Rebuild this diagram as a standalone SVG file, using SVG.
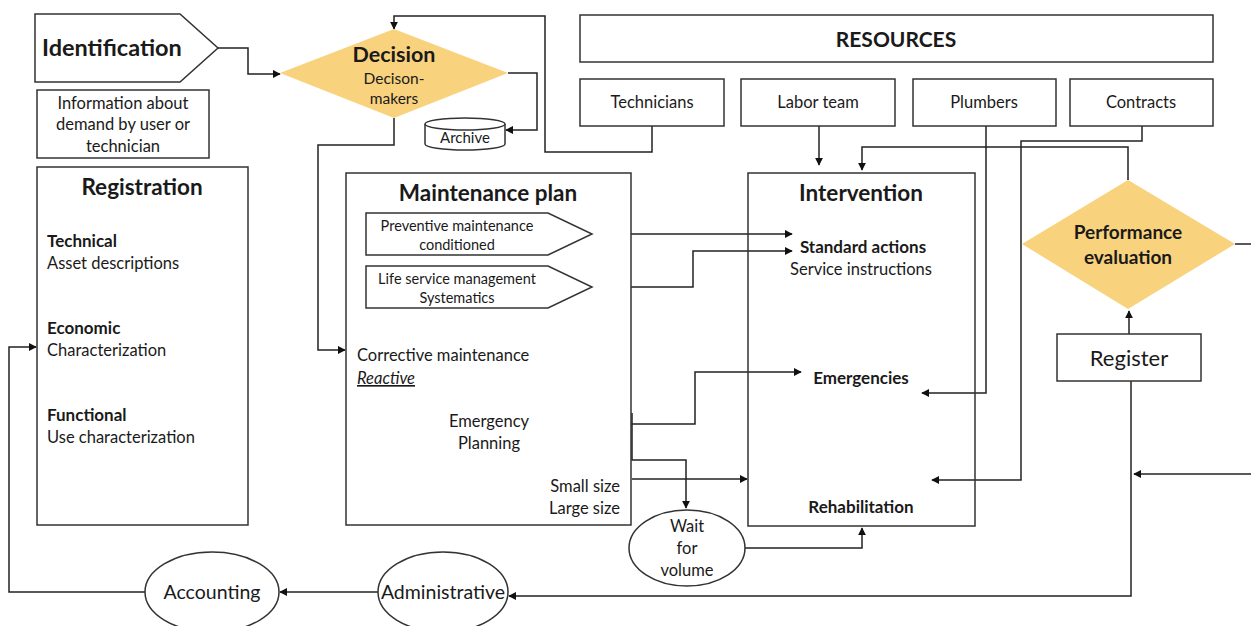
<svg xmlns="http://www.w3.org/2000/svg" width="1251" height="626" viewBox="0 0 1251 626">
  <style>
    text { font-family: Lato, "Liberation Sans", sans-serif; fill: #1a1a1a; }
    .box { fill: #ffffff; stroke: #333333; stroke-width: 1.5; }
    .dia { fill: #F9D27D; stroke: none; }
    .title { font-size: 22.5px; font-weight: bold; }
    .t15 { font-size: 16.5px; }
    .t13 { font-size: 14.5px; }
    .b15 { font-size: 17px; font-weight: bold; }
    .mid { text-anchor: middle; }
    .end { text-anchor: end; }
    .wire { fill: none; stroke: #222222; stroke-width: 1.5; }
  </style>
  <defs>
    <marker id="arrow" viewBox="0 0 10 10" refX="9" refY="5" markerWidth="8" markerHeight="8" markerUnits="userSpaceOnUse" orient="auto">
      <path d="M0,0 L10,5 L0,10 z" fill="#111111"/>
    </marker>
  </defs>

  <rect width="1251" height="626" fill="#ffffff"/>

  <!-- connectors -->
  <g id="connectors" class="wire">
    <path d="M218,48 H248 V74 H280" marker-end="url(#arrow)"/>
    <path d="M652,126 V152 H545 V16 H394 V29" marker-end="url(#arrow)"/>
    <path d="M394,118 V145 H318 V350 H345" marker-end="url(#arrow)"/>
    <path d="M508,73 H537 V130 H506" marker-end="url(#arrow)"/>
    <path d="M819,126 V165" marker-end="url(#arrow)"/>
    <path d="M1128,180 V147 H862 V170" marker-end="url(#arrow)"/>
    <path d="M592,234 H792" marker-end="url(#arrow)"/>
    <path d="M592,287 H693 V251 H792" marker-end="url(#arrow)"/>
    <path d="M535,424 H695 V372 H801" marker-end="url(#arrow)"/>
    <path d="M986,126 V393 H922" marker-end="url(#arrow)"/>
    <path d="M1142,126 V141 H1021 V480 H932" marker-end="url(#arrow)"/>
    <path d="M632,413 V460 H686 V508" marker-end="url(#arrow)"/>
    <path d="M632,479 H747" marker-end="url(#arrow)"/>
    <path d="M745,548 H862 V528" marker-end="url(#arrow)"/>
    <path d="M1129,334 V311" marker-end="url(#arrow)"/>
    <path d="M1131,381 V596 H509" marker-end="url(#arrow)"/>
    <path d="M1251,474 H1134" marker-end="url(#arrow)"/>
    <path d="M1235,244 H1251"/>
    <path d="M378,592 H280" marker-end="url(#arrow)"/>
    <path d="M145,592 H9 V347 H36" marker-end="url(#arrow)"/>
  </g>

  <!-- Identification -->
  <g id="identification">
    <polygon class="box" points="35,14 180,14 218,48 180,82 35,82"/>
    <text x="42" y="56" style="font-size:23.5px;font-weight:bold">Identification</text>
  </g>

  <g id="information">
    <rect class="box" x="37" y="90" width="172" height="68"/>
    <text class="t15 mid" x="123" y="109">Information about</text>
    <text class="t15 mid" x="123" y="130">demand by user or</text>
    <text class="t15 mid" x="123" y="152">technician</text>
  </g>

  <g id="decision">
    <polygon class="dia" points="394,29 508,73 394,118 280,73"/>
    <text class="mid" x="394" y="62" style="font-size:21.5px;font-weight:bold">Decision</text>
    <text class="t15 mid" x="394" y="84" style="font-size:15.5px">Decison-</text>
    <text class="t15 mid" x="394" y="104" style="font-size:15.5px">makers</text>
  </g>

  <g id="archive">
    <path class="box" d="M425,124 V144 A40,6 0 0 0 505,144 V124"/>
    <ellipse class="box" cx="465" cy="124" rx="40" ry="6"/>
    <text class="mid" x="465" y="143" style="font-size:15px">Archive</text>
  </g>

  <g id="registration">
    <rect class="box" x="37" y="167" width="211" height="358"/>
    <text class="title mid" x="142" y="195">Registration</text>
    <text class="b15" x="47" y="247">Technical</text>
    <text class="t15" x="47" y="269">Asset descriptions</text>
    <text class="b15" x="47" y="334">Economic</text>
    <text class="t15" x="47" y="356">Characterization</text>
    <text class="b15" x="47" y="421">Functional</text>
    <text class="t15" x="47" y="443">Use characterization</text>
  </g>

  <g id="maintenance-plan">
    <rect class="box" x="346" y="173" width="285" height="352"/>
    <text class="title mid" x="488" y="201">Maintenance plan</text>
    <polygon class="box" points="366,213 548,213 592,234 548,255 366,255"/>
    <text class="t13 mid" x="457" y="231">Preventive maintenance</text>
    <text class="t13 mid" x="457" y="250">conditioned</text>
    <polygon class="box" points="366,266 548,266 592,287 548,308 366,308"/>
    <text class="t13 mid" x="457" y="284">Life service management</text>
    <text class="t13 mid" x="457" y="303">Systematics</text>
    <text class="t15" x="357" y="361">Corrective maintenance</text>
    <text class="t15" x="357" y="384" style="font-style:italic;text-decoration:underline">Reactive</text>
    <text class="t15 mid" x="489" y="427">Emergency</text>
    <text class="t15 mid" x="489" y="449">Planning</text>
    <text class="t15 end" x="620" y="492">Small size</text>
    <text class="t15 end" x="620" y="514">Large size</text>
  </g>

  <g id="resources">
    <rect class="box" x="580" y="15" width="633" height="47"/>
    <text class="mid" x="896" y="47" style="font-size:21px;font-weight:bold">RESOURCES</text>
  </g>
  <g id="technicians">
    <rect class="box" x="580" y="79" width="144" height="47"/>
    <text class="t15 mid" x="652" y="108">Technicians</text>
  </g>
  <g id="labor-team">
    <rect class="box" x="741" y="79" width="154" height="47"/>
    <text class="t15 mid" x="818" y="108">Labor team</text>
  </g>
  <g id="plumbers">
    <rect class="box" x="913" y="79" width="143" height="47"/>
    <text class="t15 mid" x="984" y="108">Plumbers</text>
  </g>
  <g id="contracts">
    <rect class="box" x="1070" y="79" width="143" height="47"/>
    <text class="t15 mid" x="1141" y="108">Contracts</text>
  </g>

  <g id="intervention">
    <rect class="box" x="748" y="173" width="227" height="353" style="fill:none"/>
    <text class="title mid" x="861" y="201">Intervention</text>
    <text class="b15 mid" x="863" y="253">Standard actions</text>
    <text class="t15 mid" x="861" y="275">Service instructions</text>
    <text class="b15 mid" x="861" y="384">Emergencies</text>
    <text class="b15 mid" x="861" y="513">Rehabilitation</text>
  </g>

  <g id="performance-evaluation">
    <polygon class="dia" points="1128,180 1235,244 1128,309 1022,244"/>
    <text class="mid" x="1128" y="239" style="font-size:19px;font-weight:bold">Performance</text>
    <text class="mid" x="1128" y="264" style="font-size:19px;font-weight:bold">evaluation</text>
  </g>

  <g id="register">
    <rect class="box" x="1057" y="334" width="144" height="47"/>
    <text class="mid" x="1129" y="366" style="font-size:22px">Register</text>
  </g>

  <g id="wait-for-volume">
    <ellipse class="box" cx="687" cy="548" rx="58" ry="38"/>
    <text class="t15 mid" x="687" y="532">Wait</text>
    <text class="t15 mid" x="687" y="554">for</text>
    <text class="t15 mid" x="687" y="576">volume</text>
  </g>

  <g id="administrative">
    <ellipse class="box" cx="443" cy="592" rx="65" ry="40"/>
    <text class="mid" x="443" y="599" style="font-size:19.5px">Administrative</text>
  </g>

  <g id="accounting">
    <ellipse class="box" cx="212" cy="592" rx="67" ry="40"/>
    <text class="mid" x="212" y="599" style="font-size:19.5px">Accounting</text>
  </g>
</svg>
